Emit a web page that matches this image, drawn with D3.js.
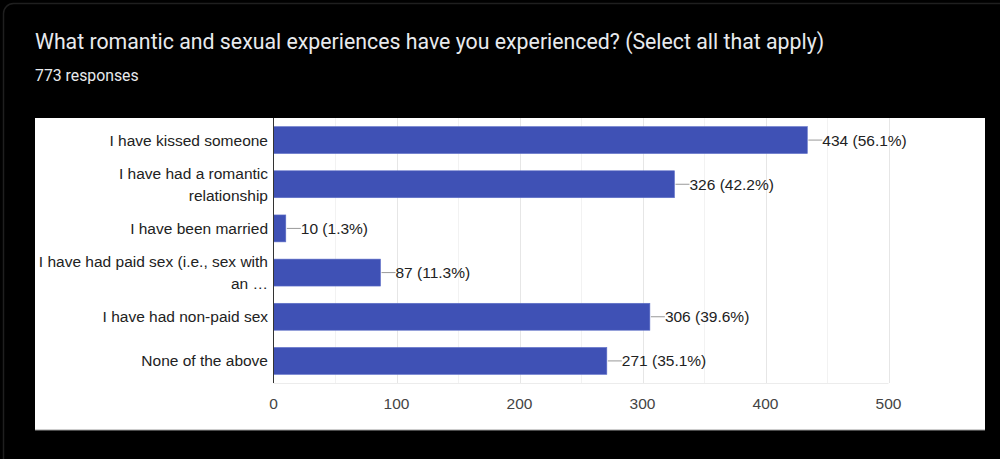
<!DOCTYPE html>
<html><head><meta charset="utf-8">
<script src="https://cdn.jsdelivr.net/npm/d3@7"></script>
<style>html,body{margin:0;padding:0;background:#000;}svg{display:block;}</style>
</head><body>
<svg id="c" width="1000" height="459"></svg>
<script>
const categories = [
  ["I have kissed someone"],
  ["I have had a romantic", "relationship"],
  ["I have been married"],
  ["I have had paid sex (i.e., sex with", "an …"],
  ["I have had non-paid sex"],
  ["None of the above"]
];
const counts = [434, 326, 10, 87, 306, 271];
const percents = ["56.1%", "42.2%", "1.3%", "11.3%", "39.6%", "35.1%"];
const xTicks = [0, 100, 200, 300, 400, 500];
const title = "What romantic and sexual experiences have you experienced? (Select all that apply)";
const subtitle = "773 responses";

const svg = d3.select("#c");
svg.append("rect").attr("width",1000).attr("height",459).attr("fill","#000");
svg.append("rect").attr("x",3.5).attr("y",3.5).attr("width",1010).attr("height",470).attr("rx",10)
  .attr("fill","#000").attr("stroke","#1f1f1f").attr("stroke-width",1.5);

svg.append("text").attr("x",35).attr("y",49).attr("fill","#e8eaed")
  .attr("font-family","Roboto, 'Noto Sans', sans-serif").attr("font-size",21.3).text(title);
svg.append("text").attr("x",35).attr("y",81).attr("fill","#e8eaed")
  .attr("font-family","Roboto, 'Noto Sans', sans-serif").attr("font-size",15.8).text(subtitle);

// white panel
svg.append("rect").attr("x",35).attr("y",118).attr("width",950).attr("height",312).attr("fill","#fff");
svg.append("line").attr("x1",35).attr("x2",985).attr("y1",430).attr("y2",430).attr("stroke","#9a9a9a");

const x = d3.scaleLinear().domain([0,500]).range([273.5, 888.5]);
const y = d3.scaleBand().domain(d3.range(categories.length)).range([118, 383]).paddingInner(0.39).paddingOuter(0.195);

const g = svg.append("g").attr("font-family","'Liberation Sans', Arial, sans-serif");
const fs = 15.5;

// gridlines
const grid = d3.range(0, 501, 50);
g.selectAll("line.grid").data(grid.filter(d=>d>0)).join("line")
  .attr("x1",d=>Math.round(x(d))+0.5).attr("x2",d=>Math.round(x(d))+0.5)
  .attr("y1",118).attr("y2",383)
  .attr("stroke",d=>d%100===0?"#e6e6e6":"#f2f2f2").attr("stroke-width",1);
g.append("line").attr("x1",273.5).attr("x2",888.5).attr("y1",383.5).attr("y2",383.5).attr("stroke","#ececec");

// bars
g.selectAll("rect.bar").data(counts).join("rect")
  .attr("x",x(0)).attr("y",(d,i)=>y(i)).attr("width",d=>x(d)-x(0)).attr("height",y.bandwidth())
  .attr("fill","#3f51b5").attr("stroke","#5f70c8").attr("stroke-width",0.6);

// axis line at 0
g.append("line").attr("x1",x(0)).attr("x2",x(0)).attr("y1",118).attr("y2",383).attr("stroke","#333").attr("stroke-width",1);

// value labels
counts.forEach((d,i)=>{
  const cy = y(i)+y.bandwidth()/2;
  g.append("line").attr("x1",x(d)+1).attr("x2",x(d)+15).attr("y1",cy).attr("y2",cy).attr("stroke","#999").attr("stroke-width",1);
  g.append("text").attr("x",x(d)+15).attr("y",cy+5.5).attr("font-size",fs).attr("fill","#222")
    .text(`${d} (${percents[i]})`);
});

// category labels
categories.forEach((lines,i)=>{
  const cy = y(i)+y.bandwidth()/2;
  const n = lines.length;
  lines.forEach((ln,j)=>{
    g.append("text").attr("x",268).attr("y",cy+5.5+(j-(n-1)/2)*21.5).attr("text-anchor","end")
      .attr("font-size",fs).attr("fill","#222").text(ln);
  });
});

// x tick labels
g.selectAll("text.tick").data(xTicks).join("text")
  .attr("x",d=>x(d)).attr("y",409).attr("text-anchor","middle").attr("font-size",fs).attr("fill","#444")
  .text(d=>d);
</script>
</body></html>
